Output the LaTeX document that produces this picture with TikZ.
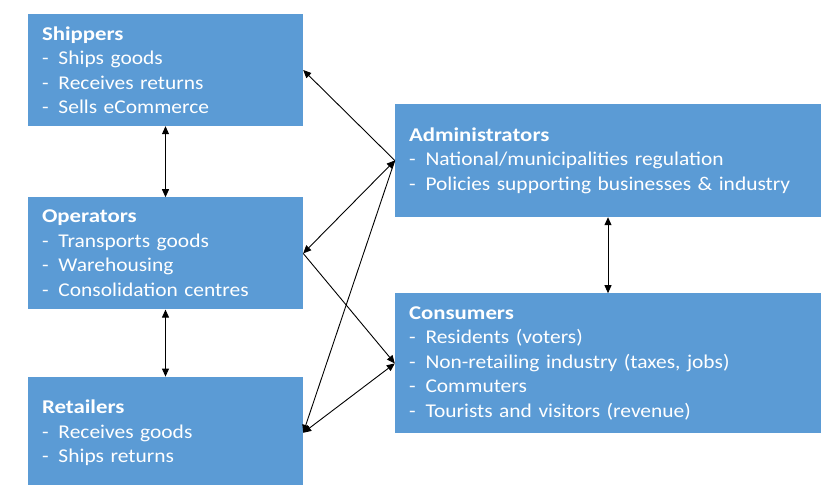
\documentclass[tikz,border=0pt]{standalone}
\usepackage{fontspec}
\setmainfont{Carlito}[FakeStretch=1.1, BoldFeatures={FakeStretch=1.17}]
\usepackage{tikz}
\usetikzlibrary{positioning}
\usetikzlibrary{shapes,arrows,calc,arrows.meta}

\definecolor{boxblue}{HTML}{5B9BD5}
\newcommand{\itm}[1]{\makebox[16.5pt][l]{-}#1}

\begin{document}
\begin{tikzpicture}[x=1pt, y=-1pt, node distance=2cm, auto,
    box/.style={draw=none, rectangle, fill=boxblue, text=white, align=left,
      inner xsep=14pt, minimum height=112pt,
      font=\fontsize{19.5}{24.5}\selectfont},
    link/.style={{Triangle[length=8pt,width=7pt]}-{Triangle[length=8pt,width=7pt]}, line width=0.9pt},
    onelink/.style={-{Triangle[length=8pt,width=7pt]}, line width=0.9pt}]
    \useasboundingbox (0,0) rectangle (826,484);
    \clip (0,0) rectangle (826,484);
    % Nodes
    \node [box, text width=247pt] (shippers) at (165.5,70) {\textbf{Shippers}\\
      \itm{Ships goods}\\ \itm{Receives returns}\\ \itm{Sells eCommerce}};
    \node [box, text width=247pt, below=71pt of shippers] (operators) {\textbf{Operators}\\
      \itm{Transports goods}\\ \itm{Warehousing}\\ \itm{Consolidation centres}};
    \node [box, text width=247pt, below=67pt of operators] (retailers) {\textbf{Retailers}\\
      \itm{Receives goods}\\ \itm{Ships returns}};

    \node [box, text width=398pt, minimum height=113pt] (admin) at (608,160.5) {\textbf{Administrators}\\
      \itm{National/municipalities regulation}\\ \itm{Policies supporting businesses \& industry}};
    \node [box, text width=398pt, minimum height=140pt, below=76pt of admin] (consumers) {\textbf{Consumers}\\
      \itm{Residents (voters)}\\ \itm{Non-retailing industry (taxes, jobs)}\\ \itm{Commuters}\\ \itm{Tourists and visitors (revenue)}};

    % Arrows
    \draw [link] (shippers) -- (operators);
    \draw [link] (operators) -- (retailers);
    \draw [link] (admin) -- (consumers);
    \draw [onelink] (admin.west) -- (shippers.east);
    \draw [link] (admin.west) -- (operators.east);
    \draw [onelink] (admin.west) -- (retailers.east);
    \draw [onelink] (operators.east) -- (consumers.west);
    \draw [link] (retailers.east) -- (consumers.west);
  \end{tikzpicture}
\end{document}
